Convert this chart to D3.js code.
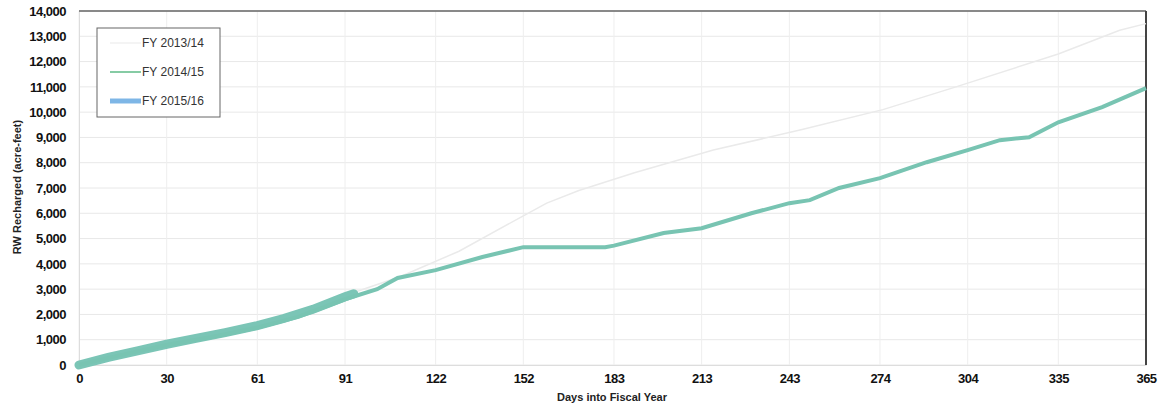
<!DOCTYPE html>
<html>
<head>
<meta charset="utf-8">
<script src="https://cdn.jsdelivr.net/npm/d3@7"></script>
<style>
  body { margin: 0; background: #fff; }
  svg { display: block; font-family: "Liberation Sans Narrow", "Arial Narrow", "Liberation Sans", sans-serif; }
  .tick text { font-weight: bold; font-size: 13px; fill: #111; letter-spacing: -0.5px; }
  .axis-title { font-weight: bold; font-size: 11px; fill: #222; }
  .legend text { font-size: 12px; fill: #333; }
</style>
</head>
<body>
<svg width="1163" height="406"></svg>
<script>
// tick days (month starts) and y ticks
const dayTicks = [0, 30, 61, 91, 122, 152, 183, 213, 243, 274, 304, 335, 365];
const acreTicks = [0, 1000, 2000, 3000, 4000, 5000, 6000, 7000, 8000, 9000, 10000, 11000, 12000, 13000, 14000];

const seriesNames = ["FY 2013/14", "FY 2014/15", "FY 2015/16"];

// FY 2013/14 (faint grey line in the scan)
const fy1314Days  = [0, 30, 61, 91, 110, 130, 152, 160, 171, 190, 217, 247, 275, 300, 335, 356, 365];
const fy1314Acres = [0, 800, 1550, 2750, 3500, 4500, 5900, 6400, 6900, 7600, 8500, 9300, 10100, 11000, 12300, 13240, 13500];

// FY 2014/15 (green)
const fy1415Days  = [0, 10, 20, 30, 45, 61, 75, 91, 102, 109, 122, 138, 152, 180, 183, 200, 213, 230, 243, 250, 260, 274, 290, 304, 315, 325, 335, 350, 365];
const fy1415Acres = [0, 280, 540, 790, 1100, 1480, 1900, 2600, 3000, 3440, 3750, 4270, 4660, 4660, 4720, 5220, 5410, 6000, 6400, 6520, 7000, 7390, 8020, 8500, 8890, 9010, 9600, 10200, 10950];

// FY 2015/16 (partial year, thick band)
const fy1516Days  = [0, 10, 20, 30, 40, 50, 61, 70, 80, 91, 94];
const fy1516Acres = [0, 300, 560, 820, 1050, 1280, 1560, 1840, 2200, 2700, 2820];

const svg = d3.select("svg");
const plotLeft = 79, plotRight = 1146, plotTop = 11, plotBottom = 365;

const x = d3.scaleLinear().domain([0, 365]).range([plotLeft, plotRight]);
const y = d3.scaleLinear().domain([0, 14000]).range([plotBottom, plotTop]);

// gridlines
svg.append("g")
  .selectAll("line")
  .data(acreTicks)
  .join("line")
  .attr("x1", plotLeft).attr("x2", plotRight)
  .attr("y1", d => y(d)).attr("y2", d => y(d))
  .attr("stroke", "#e8e8e8").attr("stroke-width", 1);

svg.append("g")
  .selectAll("line")
  .data(dayTicks)
  .join("line")
  .attr("x1", d => x(d)).attr("x2", d => x(d))
  .attr("y1", plotTop).attr("y2", plotBottom)
  .attr("stroke", "#eeeeee").attr("stroke-width", 1);

// axes
const axisY = d3.axisLeft(y).tickValues(acreTicks).tickFormat(d3.format(",")).tickSize(0).tickPadding(13);
const gy = svg.append("g").attr("transform", `translate(${plotLeft},0)`).call(axisY);
gy.select(".domain").attr("stroke", "#ddd");

const axisX = d3.axisBottom(x).tickValues(dayTicks).tickSize(0).tickPadding(9);
const gx = svg.append("g").attr("transform", `translate(0,${plotBottom})`).call(axisX);
gx.select(".domain").attr("stroke", "#ddd");

// frame top and right (dark in the scan)
svg.append("line").attr("x1", plotLeft).attr("x2", plotRight).attr("y1", plotTop).attr("y2", plotTop)
  .attr("stroke", "#666").attr("stroke-width", 1.5);
svg.append("line").attr("x1", plotRight).attr("x2", plotRight).attr("y1", plotTop).attr("y2", plotBottom)
  .attr("stroke", "#444").attr("stroke-width", 2);

// axis titles
svg.append("text").attr("class", "axis-title")
  .attr("x", 612).attr("y", 401).attr("text-anchor", "middle")
  .text("Days into Fiscal Year");
svg.append("text").attr("class", "axis-title")
  .attr("transform", "translate(21,187) rotate(-90)")
  .attr("text-anchor", "middle")
  .text("RW Recharged (acre-feet)");

// lines
const line = d3.line().x(d => x(d[0])).y(d => y(d[1]));

svg.append("path")
  .datum(d3.zip(fy1314Days, fy1314Acres))
  .attr("fill", "none").attr("stroke", "#eaeaea").attr("stroke-width", 1.5)
  .attr("d", line);

svg.append("path")
  .datum(d3.zip(fy1516Days, fy1516Acres))
  .attr("fill", "none").attr("stroke", "#7bc5b6").attr("stroke-width", 9)
  .attr("stroke-linecap", "round")
  .attr("d", line);

svg.append("path")
  .datum(d3.zip(fy1415Days, fy1415Acres))
  .attr("fill", "none").attr("stroke", "#78c4b2").attr("stroke-width", 4)
  .attr("d", line);

// legend
const legend = svg.append("g").attr("class", "legend");
legend.append("rect")
  .attr("x", 97).attr("y", 28).attr("width", 123).attr("height", 89)
  .attr("fill", "#fff").attr("stroke", "#666").attr("stroke-width", 1);

const legendColors = ["#f0f0f0", "#86cba4", "#7eb6e6"];
const legendWidths = [1.5, 2, 5];
seriesNames.forEach((name, i) => {
  const ly = 43 + i * 29;
  legend.append("line")
    .attr("x1", 110).attr("x2", 141).attr("y1", ly).attr("y2", ly)
    .attr("stroke", legendColors[i]).attr("stroke-width", legendWidths[i]);
  legend.append("text").attr("x", 142).attr("y", ly + 4).text(name);
});
</script>
</body>
</html>
